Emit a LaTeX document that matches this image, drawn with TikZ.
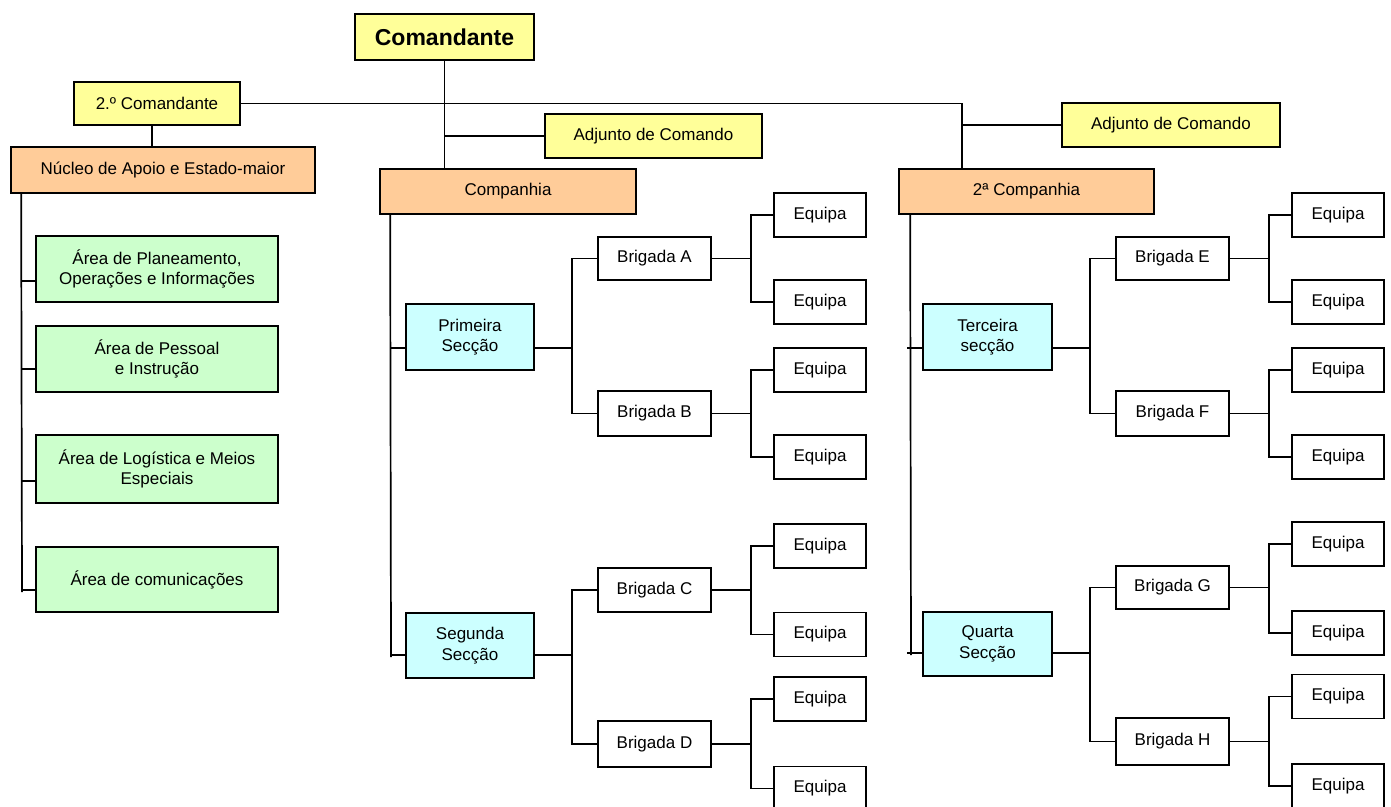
\documentclass[tikz,border=0pt]{standalone}
\usepackage{fontspec}
\setmainfont{Liberation Sans}
\definecolor{cyel}{HTML}{FFFF99}
\definecolor{corg}{HTML}{FFCC99}
\definecolor{cgrn}{HTML}{CCFFCC}
\definecolor{ccyn}{HTML}{CCFFFF}
\tikzset{
  box/.style={draw=black, line width=1.7pt, rectangle, inner sep=0pt, align=center,
    font=\fontsize{17}{20.5}\selectfont},
  ybox/.style={box, fill=cyel},
  obox/.style={box, fill=corg},
  gbox/.style={box, fill=cgrn},
  cbox/.style={box, fill=ccyn},
  wbox/.style={box, fill=white},
  conn/.style={line width=1.7pt, black},
}
\begin{document}
\begin{tikzpicture}[x=1pt, y=-1pt]
\useasboundingbox (0,0) rectangle (1391,806);
% top level
\node[ybox, minimum width=179pt, minimum height=46pt, font=\fontsize{23}{27}\selectfont\bfseries] (cmd) at (444.5,37) {Comandante};
\node[ybox, minimum width=166pt, minimum height=43pt] (cmd2) at (157,103.5) {2.º Comandante};
\node[obox, minimum width=304pt, minimum height=46pt] (nuc) at (163,170) {Núcleo de Apoio e Estado-maior};
\node[ybox, minimum width=217pt, minimum height=44pt] (adj1) at (653.5,136) {Adjunto de Comando};
\node[ybox, minimum width=218pt, minimum height=44pt] (adj2) at (1171,125) {Adjunto de Comando};
\node[obox, minimum width=256pt, minimum height=45pt] (comp1) at (508,191.5) {Companhia};
\node[obox, minimum width=255pt, minimum height=45pt] (comp2) at (1026.5,191.5) {2ª Companhia};
% green areas
\node[gbox, minimum width=242pt, minimum height=66pt] (g1) at (157,269) {Área de Planeamento,\\Operações e Informações};
\node[gbox, minimum width=242pt, minimum height=66pt] (g2) at (157,359) {Área de Pessoal\\e Instrução};
\node[gbox, minimum width=242pt, minimum height=68pt] (g3) at (157,469) {Área de Logística e Meios\\Especiais};
\node[gbox, minimum width=242pt, minimum height=65pt] (g4) at (157,579.5) {Área de comunicações};
% sections
\node[cbox, minimum width=128pt, minimum height=66pt] (s1) at (470,337) {Primeira\\Secção};
\node[cbox, minimum width=128pt, minimum height=65pt] (s2) at (470,645.5) {Segunda\\Secção};
\node[cbox, minimum width=129pt, minimum height=66pt] (s3) at (987.5,337) {Terceira\\secção};
\node[cbox, minimum width=129pt, minimum height=64pt] (s4) at (987.5,644) {Quarta\\Secção};
% brigades
\node[wbox, minimum width=113pt, minimum height=43pt] (bA) at (654.5,258.5) {Brigada A};
\node[wbox, minimum width=113pt, minimum height=45pt] (bB) at (654.5,413.5) {Brigada B};
\node[wbox, minimum width=113pt, minimum height=44pt] (bC) at (654.5,590) {Brigada C};
\node[wbox, minimum width=113pt, minimum height=46pt] (bD) at (654.5,744) {Brigada D};
\node[wbox, minimum width=113pt, minimum height=43pt] (bE) at (1172.5,258.5) {Brigada E};
\node[wbox, minimum width=113pt, minimum height=45pt] (bF) at (1172.5,413.5) {Brigada F};
\node[wbox, minimum width=113pt, minimum height=43pt] (bG) at (1172.5,587.5) {Brigada G};
\node[wbox, minimum width=113pt, minimum height=47pt] (bH) at (1172.5,741.5) {Brigada H};
% equipas
\foreach \nm/\x/\y in {eA1/820/215, eA2/820/302, eB1/820/370, eB2/820/457,
  eC1/820/546, eC2/820/634.5, eD1/820/699, eD2/820/788.5,
  eE1/1338/215, eE2/1338/302, eF1/1338/370, eF2/1338/457,
  eG1/1338/544, eG2/1338/633, eH1/1338/696.5, eH2/1338/786}
  \node[wbox, minimum width=92pt, minimum height=44pt] (\nm) at (\x,\y) {Equipa};
% top connectors
\draw[conn] (cmd.south) -- (cmd.south |- comp1.north);
\draw[conn] (cmd.south |- adj1.west) -- (adj1.west);
\coordinate (tr) at (962,103.5);
\draw[conn] (cmd2.east) -- (tr) -- (tr |- comp2.north);
\draw[conn] (tr |- adj2.west) -- (adj2.west);
\draw[conn] ([xshift=-5pt]cmd2.south) -- ([xshift=-5pt]cmd2.south |- nuc.north);
% left bus
\coordinate (nb) at (22,592);
\draw[conn] ([xshift=11pt]nuc.south west) -- (nb);
\foreach \n/\d in {g1/12, g2/10, g3/12, g4/10.5}
  \draw[conn] ([yshift=-\d pt]\n.west) -- ++(-14,0);
% company buses
\coordinate (cb1) at (391,657);
\draw[conn] ([xshift=11pt]comp1.south west) -- (cb1);
\coordinate (cb2) at (911,655);
\draw[conn] ([xshift=12pt]comp2.south west) -- (cb2);
\foreach \n/\d in {s1/11, s2/9.5, s3/11, s4/9}
  \draw[conn] ([yshift=-\d pt]\n.west) -- ++(-15,0);
% section to brigades
\foreach \s/\d/\a/\b in {s1/11/bA/bB, s2/9.5/bC/bD, s3/11/bE/bF, s4/9/bG/bH}{
  \draw[conn] ([yshift=-\d pt]\s.east) -- ++(37,0) coordinate (j\s);
  \draw[conn] (\a.west) -| (j\s) |- (\b.west);
}
% brigades to equipas
\foreach \b/\p/\q in {bA/eA1/eA2, bB/eB1/eB2, bC/eC1/eC2, bD/eD1/eD2,
  bE/eE1/eE2, bF/eF1/eF2, bG/eG1/eG2, bH/eH1/eH2}{
  \draw[conn] (\b.east) -- ++(39,0) coordinate (j\b);
  \draw[conn] (\p.west) -| (j\b) |- (\q.west);
}
\end{tikzpicture}
\end{document}
